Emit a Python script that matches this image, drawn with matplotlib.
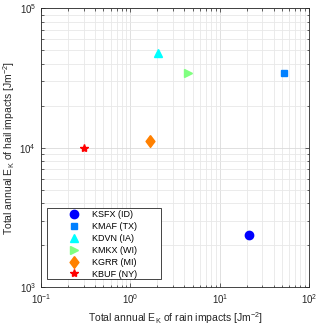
import matplotlib
matplotlib.use('Agg')
import matplotlib.pyplot as plt
from matplotlib.patches import Rectangle

plt.rcParams['font.family'] = ['Liberation Sans', 'DejaVu Sans']
plt.rcParams['mathtext.fontset'] = 'custom'
plt.rcParams['mathtext.rm'] = 'Liberation Sans'
plt.rcParams['mathtext.it'] = 'Liberation Sans'

# station data (rain energy, hail energy)
stations = ['KSFX (ID)', 'KMAF (TX)', 'KDVN (IA)', 'KMKX (WI)', 'KGRR (MI)', 'KBUF (NY)']
rain_ek = [21.5, 52.5, 2.05, 4.4, 1.66, 0.305]
hail_ek = [2350, 34500, 48000, 34500, 11100, 10000]
diamond = [(0, 1), (0.75, 0), (0, -1), (-0.75, 0), (0, 1)]  # matlab-like diamond
markers = ['o', 's', '^', '>', diamond, '*']
colors = ['#0000ff', '#0080ff', '#00ffff', '#80ff80', '#ff8000', '#ff0000']
sizes = [6, 5, 6, 6, 8.5, 6]

fig = plt.figure(figsize=(3.2, 3.27), dpi=100)
ax = fig.add_axes([0.128, 0.122, 0.838, 0.853])

for name, x, y, m, c, s in zip(stations, rain_ek, hail_ek, markers, colors, sizes):
    ax.plot(x, y, linestyle='none', marker=m, color=c, markersize=s,
            markeredgecolor=c, label=name)

ax.set_xscale('log')
ax.set_yscale('log')
ax.set_xlim(0.1, 100)
ax.set_ylim(1e3, 1e5)

ax.grid(True, which='major', color='#dadada', linewidth=0.6)
ax.grid(True, which='minor', color='#e8e8e8', linewidth=0.6)
ax.set_axisbelow(True)
ax.tick_params(which='both', direction='in', top=True, right=True, labelsize=7,
               colors='#262626', width=0.5)
ax.tick_params(which='major', length=3)
ax.tick_params(which='minor', length=1.8)
for sp in ax.spines.values():
    sp.set_color('#262626')
    sp.set_linewidth(0.6)

ax.set_xlabel('Total annual E$_\\mathrm{K}$ of rain impacts [Jm$^{-2}$]', fontsize=7.5, labelpad=3, color='#262626')
ax.set_ylabel('Total annual E$_\\mathrm{K}$ of hail impacts [Jm$^{-2}$]', fontsize=7.5, labelpad=2, color='#262626')

# legend box drawn separately (MATLAB style wide frame)
ax.add_patch(Rectangle((0.0224, 0.0287), 0.425, 0.2545, transform=ax.transAxes,
                       facecolor='white', edgecolor='#262626', linewidth=0.6, zorder=4))
leg = ax.legend(loc='upper left', bbox_to_anchor=(0.0896, 0.276), fontsize=6.5,
                frameon=False, borderpad=0, labelspacing=0.32, handletextpad=1.0,
                borderaxespad=0, handlelength=2)
leg.set_zorder(5)

fig.savefig('out.png', dpi=100)
